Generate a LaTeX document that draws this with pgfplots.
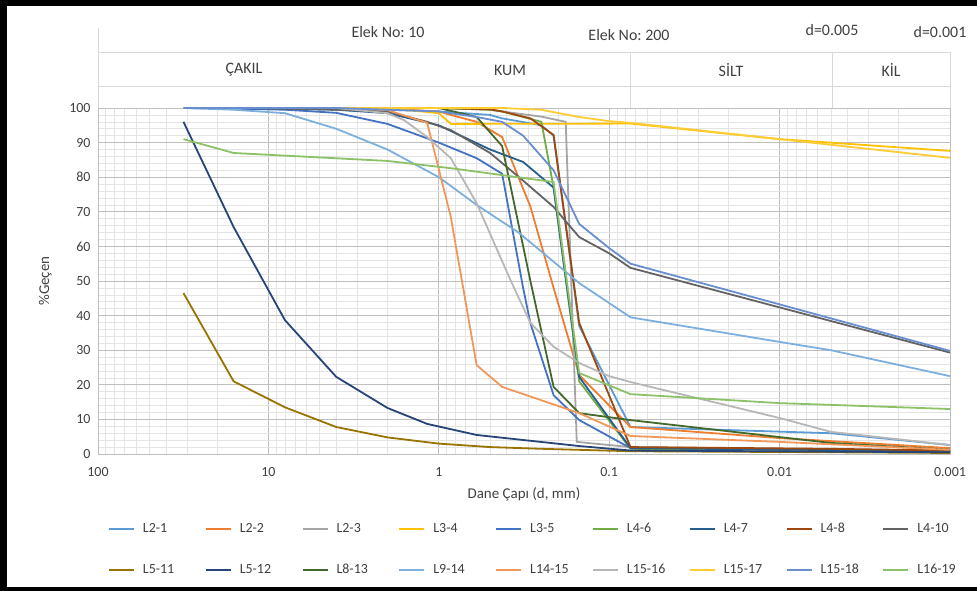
\documentclass[border=0pt]{standalone}
\usepackage{fontspec}
\setmainfont{Carlito}
\usepackage{pgfplots}
\pgfplotsset{compat=1.18}
\frenchspacing

\definecolor{c1}{HTML}{5B9BD5}
\definecolor{c2}{HTML}{ED7D31}
\definecolor{c3}{HTML}{A5A5A5}
\definecolor{c4}{HTML}{FFC000}
\definecolor{c5}{HTML}{4472C4}
\definecolor{c6}{HTML}{70AD47}
\definecolor{c7}{HTML}{255E91}
\definecolor{c8}{HTML}{9E480E}
\definecolor{c9}{HTML}{636363}
\definecolor{c10}{HTML}{997300}
\definecolor{c11}{HTML}{264478}
\definecolor{c12}{HTML}{43682B}
\definecolor{c13}{HTML}{7CAFDD}
\definecolor{c14}{HTML}{F1975A}
\definecolor{c15}{HTML}{B7B7B7}
\definecolor{c16}{HTML}{FFCD33}
\definecolor{c17}{HTML}{698ED0}
\definecolor{c18}{HTML}{8CC168}
\definecolor{gridmaj}{HTML}{BFBFBF}
\definecolor{gridmin}{HTML}{E4E4E4}
\definecolor{hdr}{HTML}{D9D9D9}
\definecolor{txt}{HTML}{404040}

\newcommand{\legtxt}[1]{\hspace{8bp}\makebox[62bp][l]{#1}}

\begin{document}
\begin{tikzpicture}
\path[use as bounding box] (0bp,0bp) rectangle (977bp,591bp);

\begin{axis}[
  at={(98bp,137bp)}, anchor=south west,
  scale only axis, width=852bp, height=346bp,
  xmode=log, x dir=reverse,
  xmin=0.001, xmax=100, ymin=0, ymax=100,
  xtick={100,10,1,0.1,0.01,0.001},
  xticklabels={100,10,1,0.1,0.01,0.001},
  minor xtick={20,30,40,50,60,70,80,90,2,3,4,5,6,7,8,9,0.2,0.3,0.4,0.5,0.6,0.7,0.8,0.9,
    0.02,0.03,0.04,0.05,0.06,0.07,0.08,0.09,0.002,0.003,0.004,0.005,0.006,0.007,0.008,0.009},
  ytick={0,10,...,100},
  minor ytick={2,4,6,8,12,14,16,18,22,24,26,28,32,34,36,38,42,44,46,48,52,54,56,58,62,64,66,68,72,74,76,78,82,84,86,88,92,94,96,98},
  grid=both,
  major grid style={draw=gridmaj, line width=0.8bp},
  minor grid style={draw=gridmin, line width=0.6bp},
  axis line style={draw=gridmaj, line width=0.8bp},
  major tick length=0pt, minor tick length=0pt,
  tick label style={font=\fontsize{14}{16}\selectfont, text=txt},
  /pgf/number format/assume math mode=true,
  xticklabel style={yshift=-10bp},
  yticklabel style={xshift=-4bp},
  xlabel={Dane Çapı (d, mm)}, ylabel={\%Geçen},
  label style={font=\fontsize{15}{18}\selectfont, text=txt},
  xlabel style={at={(axis description cs:0.5,0)}, anchor=center, yshift=-40bp},
  ylabel style={at={(axis description cs:-0.062,0.5)}, anchor=center},
  legend columns=9,
  legend style={at={(axis description cs:0.0117,-0.2)}, anchor=north west,
    draw=none, fill=none, inner sep=0pt, row sep=30bp,
    font=\fontsize{14}{16}\selectfont, text=txt,
    nodes={inner sep=0pt}, cells={anchor=west}},
  legend image code/.code={\draw[#1] (0bp,0bp) -- (25bp,0bp);},
  every axis plot/.append style={line width=1.8bp, mark=none},
]
% L2-1
\addplot[c1] coordinates {(31.5,100)(16,100)(8,100)(4,99.8)(2,99.5)(1,99)(0.5,98)(0.425,97)(0.25,95)(0.212,92)(0.15,37)(0.075,7.8)(0.005,6)(0.001,2.6)};
\addlegendentry{\legtxt{L2-1}}
% L2-2
\addplot[c2] coordinates {(31.5,100)(16,100)(8,100)(4,100)(2,99.8)(1,99)(0.85,98)(0.6,96)(0.425,91.6)(0.29,71.5)(0.212,48)(0.15,22.8)(0.075,7.8)(0.01,4.6)(0.001,1.7)};
\addlegendentry{\legtxt{L2-2}}
% L2-3
\addplot[c3] coordinates {(31.5,100)(16,100)(8,100)(4,100)(2,100)(1,100)(0.5,99.5)(0.425,99)(0.25,97.5)(0.18,96)(0.155,3.5)(0.075,2)(0.001,1)};
\addlegendentry{\legtxt{L2-3}}
% L3-4
\addplot[c4] coordinates {(31.5,100)(16,100)(8,100)(4,100)(2,100)(1,98.5)(0.85,95.4)(0.075,95.5)(0.01,91)(0.001,87.6)};
\addlegendentry{\legtxt{L3-4}}
% L3-5
\addplot[c5] coordinates {(31.5,100)(16,99.8)(8,99.5)(4,98.6)(2,95.4)(1,90)(0.6,85.5)(0.425,81)(0.32,48)(0.29,37.8)(0.212,17)(0.15,9.8)(0.075,1.7)(0.001,0.8)};
\addlegendentry{\legtxt{L3-5}}
% L4-6
\addplot[c6] coordinates {(31.5,100)(16,100)(8,100)(4,100)(2,100)(1,100)(0.5,99.5)(0.425,99)(0.25,96)(0.212,77)(0.15,21)(0.075,1.5)(0.001,1)};
\addlegendentry{\legtxt{L4-6}}
% L4-7
\addplot[c7] coordinates {(31.5,100)(16,100)(8,99.8)(4,99.5)(2,98.5)(1,95)(0.5,88)(0.32,84.4)(0.212,77)(0.15,22.3)(0.075,1.7)(0.001,0.8)};
\addlegendentry{\legtxt{L4-7}}
% L4-8
\addplot[c8] coordinates {(31.5,100)(16,100)(8,100)(4,100)(2,100)(1,100)(0.5,99.6)(0.425,99)(0.29,97)(0.212,92.2)(0.15,37.9)(0.075,2)(0.005,1.5)(0.001,1)};
\addlegendentry{\legtxt{L4-8}}
% L4-10
\addplot[c9] coordinates {(31.5,100)(16,100)(8,99.8)(4,99.5)(2,99)(1.17,96)(0.85,93.6)(0.5,87)(0.32,79)(0.212,71.4)(0.15,62.7)(0.1,58)(0.075,53.8)(0.001,29.3)};
\addlegendentry{\legtxt{L4-10}}
% L5-11
\addplot[c10] coordinates {(31.5,46.5)(16,21)(8,13.5)(4,7.8)(2,4.8)(1,3)(0.5,2)(0.25,1.5)(0.075,0.8)(0.005,0.5)(0.001,0.3)};
\addlegendentry{\legtxt{L5-11}}
% L5-12
\addplot[c11] coordinates {(31.5,96)(16,65.6)(8,38.7)(4,22.3)(2,13.3)(1.17,8.7)(0.6,5.5)(0.15,2.3)(0.075,1)(0.001,0.5)};
\addlegendentry{\legtxt{L5-12}}
% L8-13
\addplot[c12] coordinates {(31.5,100)(16,100)(8,100)(4,100)(2,100)(1,100)(0.6,97.4)(0.425,89)(0.29,50)(0.212,19.4)(0.15,11.8)(0.075,9.8)(0.005,3.2)(0.001,1.2)};
\addlegendentry{\legtxt{L8-13}}
% L9-14
\addplot[c13] coordinates {(31.5,100)(16,99.5)(8,98.5)(4,94)(2,88)(1,80)(0.6,72)(0.34,64)(0.15,49.4)(0.075,39.5)(0.01,32.4)(0.005,30)(0.001,22.5)};
\addlegendentry{\legtxt{L9-14}}
% L14-15
\addplot[c14] coordinates {(31.5,100)(16,100)(8,100)(4,100)(2,99.4)(1.17,95.7)(0.85,68.5)(0.6,25.7)(0.425,19.4)(0.15,11.8)(0.075,5.2)(0.01,3.5)(0.001,1.2)};
\addlegendentry{\legtxt{L14-15}}
% L15-16
\addplot[c15] coordinates {(31.5,100)(16,100)(8,100)(4,100)(2,98.5)(1.6,96.5)(1.17,91.6)(0.85,85.5)(0.6,72.5)(0.38,50.3)(0.29,37.9)(0.212,31)(0.15,26.3)(0.1,22.5)(0.075,20.8)(0.01,10.4)(0.005,6.4)(0.001,2.6)};
\addlegendentry{\legtxt{L15-16}}
% L15-17
\addplot[c16] coordinates {(31.5,100)(16,100)(8,100)(4,100)(2,100)(1,100)(0.425,100)(0.25,99.5)(0.212,98.8)(0.15,97.4)(0.1,96.2)(0.075,95.7)(0.01,91)(0.001,85.6)};
\addlegendentry{\legtxt{L15-17}}
% L15-18
\addplot[c17] coordinates {(31.5,100)(16,100)(8,100)(4,100)(2,99.5)(1,99)(0.6,97.4)(0.425,96)(0.32,92)(0.212,82)(0.15,66.5)(0.1,59.5)(0.075,55)(0.001,29.8)};
\addlegendentry{\legtxt{L15-18}}
% L16-19
\addplot[c18] coordinates {(31.5,91)(16,87)(2,84.7)(0.85,82.6)(0.212,78.6)(0.15,23.4)(0.075,17.3)(0.01,14.7)(0.005,14.2)(0.001,13)};
\addlegendentry{\legtxt{L16-19}}
\end{axis}

% header table
\draw[hdr, line width=0.8bp] (98bp,563bp) -- (98bp,483bp);
\draw[hdr, line width=0.8bp] (98bp,539bp) -- (950bp,539bp);
\draw[hdr, line width=0.8bp] (98bp,505bp) -- (950bp,505bp);
\foreach \xx in {390,630,832,950}
  \draw[hdr, line width=0.8bp] (\xx bp,539bp) -- (\xx bp,483bp);
\begin{scope}[font=\fontsize{16}{19}\selectfont, text=txt]
\node at (388bp,559bp) {Elek No: 10};
\node at (629bp,556bp) {Elek No: 200};
\node at (832bp,561bp) {d=0.005};
\node at (940bp,559bp) {d=0.001};
\node at (244bp,521bp) {ÇAKIL};
\node at (510bp,521bp) {KUM};
\node at (731bp,521bp) {SİLT};
\node at (891bp,521bp) {KİL};
\end{scope}

% outer frame
\fill[black] (0bp,0bp) rectangle (7bp,591bp);
\fill[black] (0bp,585bp) rectangle (977bp,591bp);
\fill[black] (0bp,0bp) rectangle (977bp,4bp);
\end{tikzpicture}
\end{document}
